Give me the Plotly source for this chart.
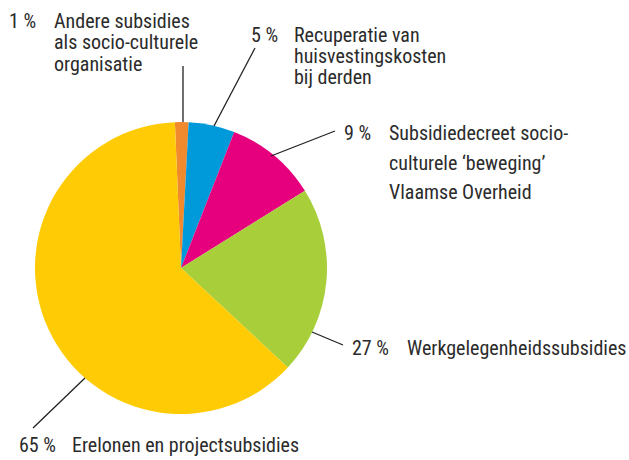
import plotly.graph_objects as go

W, H = 629, 460

# Data (order: clockwise from top)
categories = [
    "Andere subsidies als socio-culturele organisatie",
    "Recuperatie van huisvestingskosten bij derden",
    "Subsidiedecreet socio-culturele ‘beweging’ Vlaamse Overheid",
    "Werkgelegenheidssubsidies",
    "Erelonen en projectsubsidies",
]
slice_values = [1.5, 5.1, 10.2, 20.8, 62.4]
pct_labels = ["1 %", "5 %", "9 %", "27 %", "65 %"]
label_lines = [
    ["Andere subsidies", "als socio-culturele", "organisatie"],
    ["Recuperatie van", "huisvestingskosten", "bij derden"],
    ["Subsidiedecreet socio-", "culturele ‘beweging’", "Vlaamse Overheid"],
    ["Werkgelegenheidssubsidies"],
    ["Erelonen en projectsubsidies"],
]
colors = ["#F18A2C", "#0099DA", "#E6007E", "#A8CF3A", "#FFCB05"]

FONT = "Roboto Condensed, Liberation Sans Narrow, Roboto"
TXT = "#2b2b2b"
FS = 20

def px(x):
    return x / W

def py(y):
    return 1 - y / H

fig = go.Figure(go.Pie(
    labels=categories,
    values=slice_values,
    marker=dict(colors=colors, line=dict(width=0)),
    sort=False,
    direction="clockwise",
    rotation=-2.4,
    textinfo="none",
    hoverinfo="label+percent",
    showlegend=False,
    domain=dict(x=[px(35), px(327)], y=[py(414), py(122)]),
))

# label layout: (pct x, text x, first line y, line spacing)
label_pos = [
    (8, 53, 21, 21.5),
    (250, 293, 35, 21),
    (343, 388, 133, 29.5),
    (351, 406, 348, 0),
    (18, 71, 445, 0),
]
leaders = [
    ((183, 66), (183, 122)),
    ((255, 48), (214, 126)),
    ((335, 131), (271, 156)),
    ((343, 345), (312, 332)),
    ((33, 428), (85, 378)),
]

annotations = []
for pct, lines, (xp, xt, y0, dy) in zip(pct_labels, label_lines, label_pos):
    annotations.append(dict(
        x=px(xp), y=py(y0), xref="paper", yref="paper", text=pct,
        showarrow=False, xanchor="left", yanchor="middle", borderpad=0,
        font=dict(family=FONT, size=FS, color=TXT),
    ))
    for i, ln in enumerate(lines):
        annotations.append(dict(
            x=px(xt), y=py(y0 + i * dy), xref="paper", yref="paper", text=ln,
            showarrow=False, xanchor="left", yanchor="middle", borderpad=0,
            font=dict(family=FONT, size=FS, color=TXT),
        ))

shapes = []
for (a, b) in leaders:
    shapes.append(dict(
        type="line", xref="paper", yref="paper",
        x0=px(a[0]), y0=py(a[1]), x1=px(b[0]), y1=py(b[1]),
        line=dict(color="#222222", width=1.3),
    ))

fig.update_layout(
    width=W, height=H,
    margin=dict(l=0, r=0, t=0, b=0),
    paper_bgcolor="white",
    plot_bgcolor="white",
    annotations=annotations,
    shapes=shapes,
)

fig.write_html("out.html", config={"displayModeBar": False},
               post_script="document.body.style.margin='0';")
